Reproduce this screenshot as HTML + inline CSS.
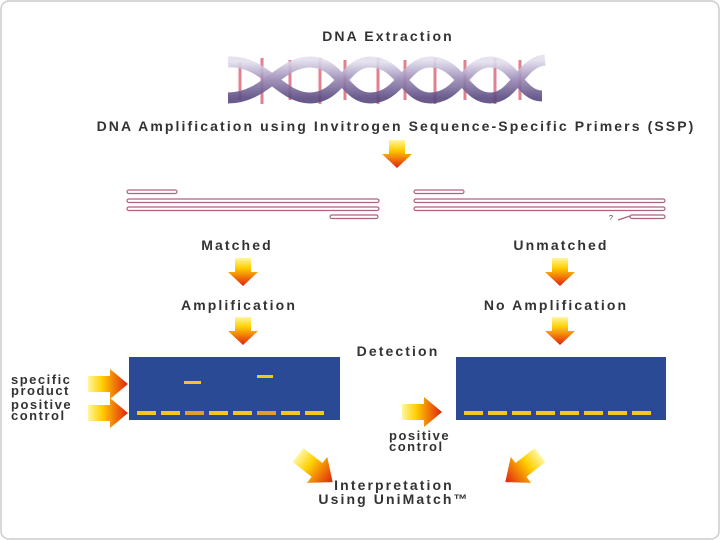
<!DOCTYPE html>
<html><head><style>
body{margin:0;background:#fff;}
svg{display:block;}
text{font-family:"Liberation Sans",sans-serif;font-weight:bold;fill:#333;font-size:14px;letter-spacing:2.1px;}
</style></head><body>
<svg width="720" height="540" viewBox="0 0 720 540">
<defs>
<linearGradient id="gd" x1="0" y1="0" x2="0" y2="1"><stop offset="0" stop-color="#fff6a0"/><stop offset="0.35" stop-color="#ffd000"/><stop offset="1" stop-color="#e02010"/></linearGradient>
<linearGradient id="gr" x1="0" y1="0" x2="1" y2="0"><stop offset="0" stop-color="#fff6a0"/><stop offset="0.35" stop-color="#ffd000"/><stop offset="1" stop-color="#e02010"/></linearGradient>
<linearGradient id="dna" x1="0" y1="0" x2="0" y2="1"><stop offset="0" stop-color="#e4e0ee"/><stop offset="0.5" stop-color="#9a8ab6"/><stop offset="1" stop-color="#5a4a80"/></linearGradient>
<path id="ad" d="M-8,0 H8 V14 H15 L0,28 L-15,14 H-8 Z" fill="url(#gd)"/>
<path id="ar" d="M0,-8 V8 H22 V15 L40,0 L22,-15 V-8 Z" fill="url(#gr)"/>
</defs>
<rect x="1" y="1" width="718" height="538" rx="8" fill="#fff" stroke="#ccc" stroke-width="1.5"/>
<text x="388" y="41" text-anchor="middle">DNA Extraction</text>
<g>
<g stroke="#e08090" stroke-width="3">
<line x1="240" y1="62" x2="240" y2="100"/><line x1="262" y1="58" x2="262" y2="104"/><line x1="290" y1="60" x2="290" y2="100"/><line x1="320" y1="58" x2="320" y2="104"/><line x1="345" y1="60" x2="345" y2="100"/><line x1="378" y1="58" x2="378" y2="104"/><line x1="405" y1="60" x2="405" y2="100"/><line x1="435" y1="58" x2="435" y2="104"/><line x1="465" y1="60" x2="465" y2="100"/><line x1="495" y1="58" x2="495" y2="104"/><line x1="520" y1="60" x2="520" y2="100"/>
</g>
<g fill="none" stroke="url(#dna)" stroke-width="11" opacity="0.9">
<path d="M228,62 C265,60 280,98 310,98 C340,98 345,62 370,62 C400,62 405,98 430,98 C460,98 465,62 490,62 C515,62 520,96 542,96"/>
<path d="M228,98 C265,98 280,62 310,62 C340,62 345,98 370,98 C400,98 405,62 430,62 C460,62 465,98 490,98 C515,98 520,62 545,60"/>
</g>
</g>
<text x="396" y="131" text-anchor="middle">DNA Amplification using Invitrogen Sequence-Specific Primers (SSP)</text>
<use href="#ad" x="397" y="140"/>
<g fill="#fff" stroke="#b06080" stroke-width="1.2">
<rect x="127" y="190" width="50" height="3.5" rx="1.7"/>
<rect x="127" y="199" width="252" height="3.5" rx="1.7"/>
<rect x="127" y="207" width="252" height="3.5" rx="1.7"/>
<rect x="330" y="215" width="48" height="3.5" rx="1.7"/>
<rect x="414" y="190" width="50" height="3.5" rx="1.7"/>
<rect x="414" y="199" width="251" height="3.5" rx="1.7"/>
<rect x="414" y="207" width="251" height="3.5" rx="1.7"/>
<rect x="630" y="215" width="35" height="3.5" rx="1.7"/>
<path d="M618,220 L630,216" fill="none"/>
</g>
<text x="609" y="220" style="font-size:7px;font-weight:normal;letter-spacing:0">?</text>
<text x="237" y="250" text-anchor="middle">Matched</text>
<text x="561" y="250" text-anchor="middle">Unmatched</text>
<use href="#ad" x="243" y="258"/>
<use href="#ad" x="560" y="258"/>
<text x="239" y="310" text-anchor="middle">Amplification</text>
<text x="556" y="310" text-anchor="middle">No Amplification</text>
<use href="#ad" x="243" y="317"/>
<use href="#ad" x="560" y="317"/>
<text x="398" y="356" text-anchor="middle">Detection</text>
<rect x="129" y="357" width="211" height="63" fill="#2a4a96"/>
<rect x="456" y="357" width="210" height="63" fill="#2a4a96"/>
<g fill="#f0c820">
<rect x="184" y="381" width="17" height="3"/><rect x="257" y="375" width="16" height="3"/>
<rect x="137" y="411" width="19" height="4"/><rect x="161" y="411" width="19" height="4"/><rect x="185" y="411" width="19" height="4" fill="#d8a030"/><rect x="209" y="411" width="19" height="4"/><rect x="233" y="411" width="19" height="4"/><rect x="257" y="411" width="19" height="4" fill="#d8a030"/><rect x="281" y="411" width="19" height="4"/><rect x="305" y="411" width="19" height="4"/>
<rect x="464" y="411" width="19" height="4"/><rect x="488" y="411" width="19" height="4"/><rect x="512" y="411" width="19" height="4"/><rect x="536" y="411" width="19" height="4"/><rect x="560" y="411" width="19" height="4"/><rect x="584" y="411" width="19" height="4"/><rect x="608" y="411" width="19" height="4"/><rect x="632" y="411" width="19" height="4"/>
</g>
<text x="11" y="384" style="font-size:13px;letter-spacing:1.5px">specific</text>
<text x="11" y="395" style="font-size:13px;letter-spacing:1.5px">product</text>
<text x="11" y="409" style="font-size:13px;letter-spacing:1.5px">positive</text>
<text x="11" y="420" style="font-size:13px;letter-spacing:1.5px">control</text>
<text x="389" y="440" style="font-size:13px;letter-spacing:1.5px">positive</text>
<text x="389" y="451" style="font-size:13px;letter-spacing:1.5px">control</text>
<use href="#ar" x="88" y="384"/>
<use href="#ar" x="88" y="413"/>
<use href="#ar" x="402" y="412"/>
<use href="#ar" transform="translate(298,455) rotate(38) scale(1.1)"/>
<use href="#ar" transform="translate(540,455) rotate(142) scale(1.1)"/>
<text x="394" y="490" text-anchor="middle">Interpretation</text>
<text x="394" y="504" text-anchor="middle">Using UniMatch™</text>
</svg>
</body></html>
